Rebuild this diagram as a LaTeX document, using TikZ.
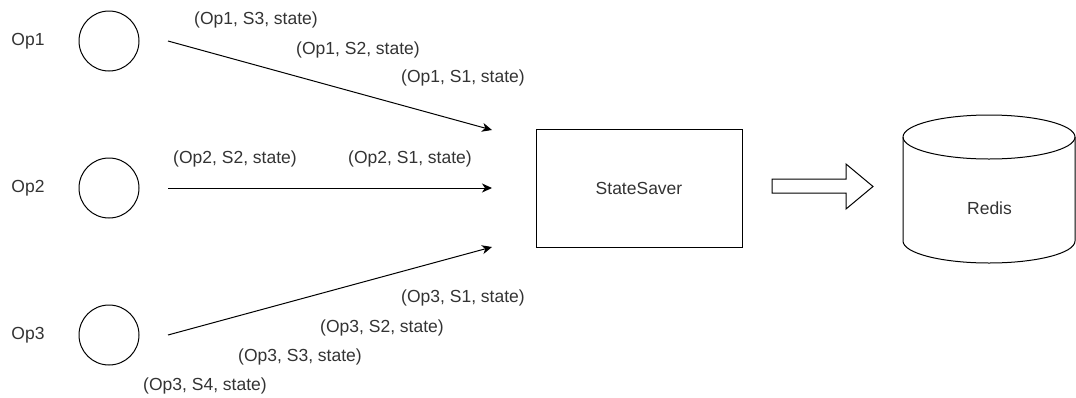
\documentclass[tikz,border=0pt]{standalone}
\usepackage{fontspec}
\setmainfont{Liberation Sans}
\definecolor{TextGray}{HTML}{333333}
\usetikzlibrary{arrows.meta,positioning}
\begin{document}
\begin{tikzpicture}[x=1pt,y=-1pt,
        op/.style={circle,draw,line width=1pt,minimum size=60pt,inner sep=0pt},
        box/.style={draw,line width=1pt,minimum width=206pt,minimum height=118pt},
        flow/.style={line width=1pt,-{Stealth[length=10pt,width=9pt,inset=3pt]}},
        every node/.style={font=\fontsize{17.5}{20}\selectfont,text=TextGray,inner sep=0pt}]
  \useasboundingbox (0,0) rectangle (1076,397);

  \foreach \i/\y in {1/41,2/188,3/335}{
    \node (l\i) at (28,\y) {Op\i};
    \node[op] (o\i) at (109,\y) {};
  }
  \node[box] (saver) at (639,188) {StateSaver};
  \node (redis) at (989.5,208) {Redis};

  \coordinate (s1) at (168,41);  \coordinate (e1) at (492,130);
  \coordinate (s2) at (168,188); \coordinate (e2) at (492,188);
  \coordinate (s3) at (168,335); \coordinate (e3) at (492,247);
  \foreach \n in {1,2,3}{
    \draw[flow] (s\n) -- (e\n);
  }

  \node (op1s3) at (256,20)  {(Op1, S3, state)};
  \node (op1s2) at (358,50)  {(Op1, S2, state)};
  \node (op1s1) at (463,78)  {(Op1, S1, state)};
  \node (op2s2) at (235,159) {(Op2, S2, state)};
  \node (op2s1) at (410,159) {(Op2, S1, state)};
  \node (op3s1) at (463,298) {(Op3, S1, state)};
  \node (op3s2) at (382,328) {(Op3, S2, state)};
  \node (op3s3) at (300,357) {(Op3, S3, state)};
  \node (op3s4) at (205,386) {(Op3, S4, state)};

  \draw[line width=1pt] (772,179) -- (846,179) -- (846,164) -- (873,186.5)
    -- (846,209) -- (846,193) -- (772,193) -- cycle;

  \draw[line width=1pt] (903,137) -- (903,241)
    arc[start angle=180,end angle=360,x radius=86pt,y radius=22pt] -- (1075,137);
  \draw[line width=1pt] (989,137) ellipse [x radius=86pt,y radius=22pt];
\end{tikzpicture}
\end{document}
